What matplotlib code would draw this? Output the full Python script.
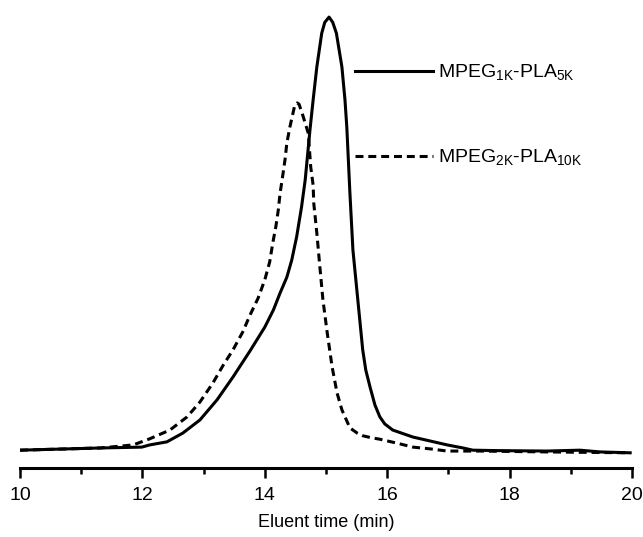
import numpy as np
import matplotlib
matplotlib.use("Agg")
import matplotlib.pyplot as plt

plt.rcParams['font.family'] = ['Liberation Sans', 'DejaVu Sans']
plt.rcParams['mathtext.fontset'] = 'custom'
plt.rcParams['mathtext.rm'] = 'Liberation Sans'

# GPC traces (relative intensity)
t_1k5k = [10.00, 11.31, 11.99, 12.12, 12.40, 12.66, 12.94, 13.22, 13.48, 13.76,
          14.00, 14.14, 14.25, 14.36, 14.44, 14.52, 14.60, 14.66, 14.74, 14.79,
          14.85, 14.93, 14.98, 15.05, 15.11, 15.17, 15.26, 15.31, 15.34, 15.39,
          15.44, 15.52, 15.60, 15.65, 15.72, 15.80, 15.88, 15.96, 16.09, 16.42,
          16.70, 16.98, 17.24, 17.40, 17.80, 18.61, 19.15, 19.48, 19.97]
i_1k5k = [0.011, 0.016, 0.018, 0.023, 0.030, 0.050, 0.080, 0.126, 0.178, 0.238,
          0.292, 0.331, 0.370, 0.406, 0.445, 0.498, 0.566, 0.628, 0.745, 0.811,
          0.886, 0.963, 0.988, 1.000, 0.988, 0.963, 0.886, 0.811, 0.749, 0.600,
          0.468, 0.354, 0.240, 0.194, 0.155, 0.114, 0.087, 0.071, 0.057, 0.041,
          0.032, 0.023, 0.016, 0.011, 0.010, 0.009, 0.011, 0.007, 0.005]

t_2k10k = [10.00, 11.31, 11.85, 12.12, 12.45, 12.73, 12.94, 13.15, 13.32, 13.48,
           13.64, 13.76, 13.89, 14.00, 14.08, 14.13, 14.18, 14.22, 14.25, 14.29,
           14.33, 14.36, 14.41, 14.49, 14.53, 14.56, 14.62, 14.71, 14.75, 14.79,
           14.80, 14.85, 14.90, 14.95, 15.02, 15.10, 15.18, 15.26, 15.39, 15.51,
           15.60, 15.72, 15.88, 16.16, 16.42, 16.70, 16.98, 17.52, 18.61, 19.97]
i_2k10k = [0.011, 0.016, 0.023, 0.037, 0.057, 0.087, 0.121, 0.164, 0.205, 0.240,
           0.281, 0.320, 0.358, 0.400, 0.441, 0.484, 0.521, 0.559, 0.598, 0.635,
           0.674, 0.712, 0.749, 0.799, 0.804, 0.801, 0.776, 0.735, 0.658, 0.616,
           0.575, 0.507, 0.429, 0.354, 0.279, 0.201, 0.142, 0.103, 0.062, 0.050,
           0.044, 0.040, 0.036, 0.027, 0.018, 0.014, 0.009, 0.009, 0.007, 0.005]

labels = [r'MPEG$_{\mathregular{1K}}$-PLA$_{\mathregular{5K}}$',
          r'MPEG$_{\mathregular{2K}}$-PLA$_{\mathregular{10K}}$']

fig = plt.figure(figsize=(6.43, 5.37), dpi=100)
ax = fig.add_axes([20 / 643, 1 - 468 / 537, 612 / 643, 468 / 537])

ax.plot(t_1k5k, i_1k5k, color='black', lw=2.2, solid_joinstyle='round', label=labels[0])
ax.plot(t_2k10k, i_2k10k, color='black', lw=2.2, dashes=(2.6, 1.6), label=labels[1])

ax.set_xlim(10, 20)
ax.set_ylim(-0.0297, 1.039)

for s in ['top', 'right', 'left']:
    ax.spines[s].set_visible(False)
ax.spines['bottom'].set_linewidth(2.2)
ax.set_yticks([])
ax.set_xticks(np.arange(10, 21, 2))
ax.set_xticks(np.arange(11, 20, 2), minor=True)
ax.tick_params(axis='x', which='major', length=7, width=1.8, labelsize=14, pad=7)
ax.tick_params(axis='x', which='minor', length=4, width=1.8)
ax.set_xlabel('Eluent time (min)', fontsize=13, labelpad=7)

ax.legend(loc='center left', bbox_to_anchor=(0.547, 0.753), frameon=False,
          fontsize=14, handlelength=4.0, handletextpad=0.3, labelspacing=3.35,
          borderpad=0, borderaxespad=0)

fig.savefig('out.png', dpi=100)
